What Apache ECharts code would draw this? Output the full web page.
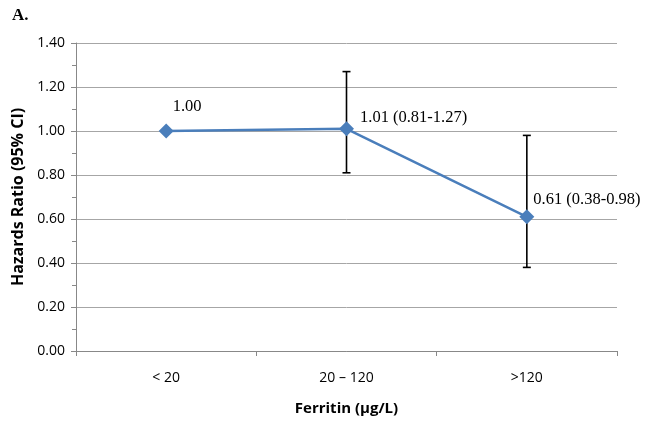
<!DOCTYPE html>
<html><head><meta charset="utf-8">
<script src="https://cdn.jsdelivr.net/npm/echarts@6/dist/echarts.min.js"></script>
<style>html,body{margin:0;padding:0;background:#fff}#c{width:649px;height:423px}</style>
</head><body><div id="c"></div>
<script>
var categories = ['< 20', '20 \u2013 120', '>120'];
var hazardRatio = [1.00, 1.01, 0.61];
var ciLower = [null, 0.81, 0.38];
var ciUpper = [null, 1.27, 0.98];
var pointLabels = ['1.00', '1.01 (0.81-1.27)', '0.61 (0.38-0.98)'];

var labelOffsets = [[21, -3], [1, -11], [-6, -17]];
var chart = echarts.init(document.getElementById('c'));
var lineData = hazardRatio.map(function (v, i) {
  var lbl = { show: true, position: i === 0 ? 'top' : 'right', offset: labelOffsets[i] };
  return { value: v, label: lbl };
});
var errData = [];
for (var i = 0; i < categories.length; i++) {
  if (ciLower[i] != null) errData.push([i, ciLower[i], ciUpper[i]]);
}
chart.setOption({
  backgroundColor: '#fff',
  animation: false,
  graphic: [{ type: 'text', left: 12, top: 7, style: { text: 'A.', font: 'bold 17px "Liberation Serif"', fill: '#000' } }],
  grid: { left: 76, right: 32, top: 43, bottom: 72 },
  xAxis: {
    type: 'category', data: categories, boundaryGap: true,
    axisLine: { lineStyle: { color: '#888', width: 1 } },
    axisTick: { show: true, length: 5, lineStyle: { color: '#888' } },
    axisLabel: { color: '#000', fontFamily: 'Open Sans', fontSize: 14, margin: 20 },
    name: 'Ferritin (\u03bcg/L)', nameLocation: 'middle', nameGap: 50,
    nameTextStyle: { color: '#000', fontFamily: 'Open Sans', fontWeight: 'bold', fontSize: 15 }
  },
  yAxis: {
    type: 'value', min: 0, max: 1.4, interval: 0.2,
    axisLine: { show: true, lineStyle: { color: '#888', width: 1 } },
    axisTick: { show: true, length: 5, lineStyle: { color: '#888' } },
    minorTick: { show: true, splitNumber: 2, length: 4, lineStyle: { color: '#888' } },
    splitLine: { show: true, lineStyle: { color: '#a6a6a6', width: 1 } },
    axisLabel: { color: '#000', fontFamily: 'Open Sans', fontSize: 14, margin: 11, formatter: function (v) { return v.toFixed(2); } },
    name: 'Hazards Ratio (95% CI)', nameLocation: 'middle', nameGap: 50, nameRotate: 90,
    nameTextStyle: { color: '#000', fontFamily: 'Open Sans', fontWeight: 'bold', fontSize: 16 }
  },
  series: [
    {
      type: 'custom', z: 1,
      data: errData,
      renderItem: function (params, api) {
        var x = api.value(0);
        var lo = api.coord([x, api.value(1)]);
        var hi = api.coord([x, api.value(2)]);
        var cap = 4;
        var st = { stroke: '#000', lineWidth: 1.6 };
        return { type: 'group', children: [
          { type: 'line', shape: { x1: lo[0], y1: lo[1], x2: hi[0], y2: hi[1] }, style: st },
          { type: 'line', shape: { x1: lo[0] - cap, y1: lo[1], x2: lo[0] + cap, y2: lo[1] }, style: st },
          { type: 'line', shape: { x1: hi[0] - cap, y1: hi[1], x2: hi[0] + cap, y2: hi[1] }, style: st }
        ]};
      }
    },
    {
      type: 'line', z: 3,
      data: lineData,
      symbol: 'diamond', symbolSize: 15,
      lineStyle: { color: '#4a7ebb', width: 2.5 },
      itemStyle: { color: '#4a7ebb' },
      label: {
        color: '#000', fontFamily: 'Liberation Serif', fontSize: 16.5,
        formatter: function (p) { return pointLabels[p.dataIndex]; }
      }
    }
  ]
});
</script></body></html>
